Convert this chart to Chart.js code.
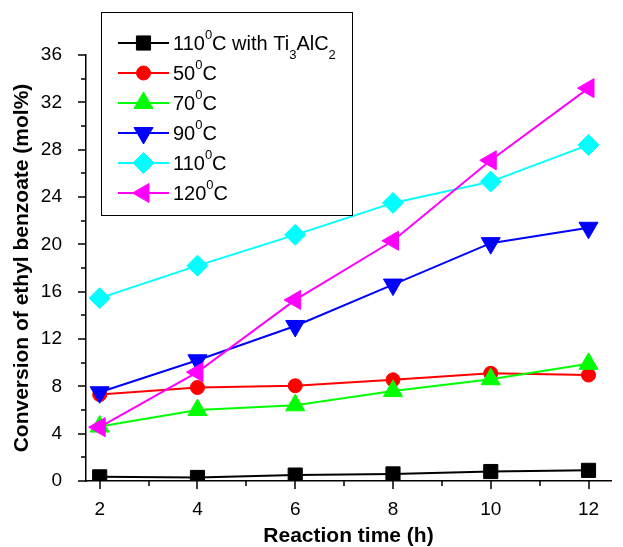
<!DOCTYPE html>
<html>
<head>
<meta charset="utf-8">
<script src="https://cdn.jsdelivr.net/npm/chart.js@4.4.1/dist/chart.umd.min.js"></script>
<style>
  html, body { margin: 0; padding: 0; background: #fff; }
</style>
</head>
<body>
<canvas id="chart" width="623" height="547"></canvas>
<script>
// reaction time (h)
var times = [2, 4, 6, 8, 10, 12];
var seriesLabels = ['110⁰C with Ti₃AlC₂', '50⁰C', '70⁰C', '90⁰C', '110⁰C', '120⁰C'];
// conversion (mol%)
var withTi = [0.35, 0.3, 0.5, 0.6, 0.8, 0.9];
var t50 = [7.3, 7.9, 8.05, 8.55, 9.1, 8.95];
var t70 = [4.6, 6.0, 6.4, 7.6, 8.6, 9.9];
var t90 = [7.5, 10.2, 13.1, 16.6, 20.1, 21.4];
var t110 = [15.45, 18.2, 20.8, 23.5, 25.3, 28.4];
var t120 = [4.55, 9.2, 15.3, 20.3, 27.1, 33.2];
var xTicks = [2, 4, 6, 8, 10, 12];
var xMinor = [3, 5, 7, 9, 11];
var yTicks = [0, 4, 8, 12, 16, 20, 24, 28, 32, 36];
var yMinor = [2, 6, 10, 14, 18, 22, 26, 30, 34];

var FONT = "'Liberation Sans', Arial, sans-serif";

function pts(vals) {
  return vals.map(function (v, i) { return { x: times[i], y: v }; });
}

function series(i, vals, color, style, radius, rot) {
  return {
    label: seriesLabels[i],
    data: pts(vals),
    borderColor: color,
    backgroundColor: color,
    borderWidth: 2,
    pointStyle: style,
    pointRadius: radius,
    pointRotation: rot || 0,
    pointBorderWidth: 1,
    pointBackgroundColor: color,
    pointBorderColor: color,
    order: 6 - i
  };
}

// split "110⁰C" into normal / superscript / subscript pieces
function pieces(s) {
  var sup = { '⁰': '0' }, sub = { '₃': '3', '₂': '2' };
  var out = [];
  for (var ch of s) {
    var k = sup[ch] ? 'sup' : (sub[ch] ? 'sub' : '');
    var c = sup[ch] || sub[ch] || ch;
    if (out.length && out[out.length - 1].k === k) out[out.length - 1].t += c;
    else out.push({ t: c, k: k });
  }
  return out;
}

var extras = {
  id: 'extras',
  afterDraw: function (chart) {
    var ctx = chart.ctx, xs = chart.scales.x, ys = chart.scales.y, a = chart.chartArea;
    ctx.save();
    // tick marks (major longer, minor shorter)
    ctx.strokeStyle = '#000';
    ctx.lineWidth = 1.5;
    ctx.beginPath();
    xTicks.forEach(function (v) { var p = Math.round(xs.getPixelForValue(v)); ctx.moveTo(p, a.bottom); ctx.lineTo(p, a.bottom + 8); });
    xMinor.forEach(function (v) { var p = Math.round(xs.getPixelForValue(v)); ctx.moveTo(p, a.bottom); ctx.lineTo(p, a.bottom + 5); });
    yTicks.forEach(function (v) { var p = Math.round(ys.getPixelForValue(v)); ctx.moveTo(a.left, p); ctx.lineTo(a.left - 8, p); });
    yMinor.forEach(function (v) { var p = Math.round(ys.getPixelForValue(v)); ctx.moveTo(a.left, p); ctx.lineTo(a.left - 5, p); });
    ctx.stroke();

    // legend box
    ctx.lineWidth = 1;
    ctx.strokeStyle = '#000';
    ctx.strokeRect(101.5, 12.5, 251, 203);
    chart.data.datasets.forEach(function (ds, i) {
      var cy = 43 + i * 30;
      ctx.strokeStyle = ds.borderColor;
      ctx.lineWidth = 2;
      ctx.beginPath();
      ctx.moveTo(118, cy);
      ctx.lineTo(169, cy);
      ctx.stroke();
      ctx.fillStyle = ds.pointBackgroundColor;
      ctx.strokeStyle = ds.pointBorderColor;
      ctx.lineWidth = 1;
      Chart.helpers.drawPoint(ctx, {
        pointStyle: ds.pointStyle, rotation: ds.pointRotation,
        radius: ds.pointRadius, borderWidth: 1
      }, 143.5, cy);
      // label text
      var x = 173, base = cy + 7;
      ctx.fillStyle = '#000';
      ctx.textBaseline = 'alphabetic';
      ctx.textAlign = 'left';
      pieces(ds.label).forEach(function (p) {
        var dy = 0;
        if (p.k === 'sup') { ctx.font = '13px ' + FONT; dy = -11; }
        else if (p.k === 'sub') { ctx.font = '13px ' + FONT; dy = 9; }
        else { ctx.font = '20px ' + FONT; }
        ctx.fillText(p.t, x, base + dy);
        x += ctx.measureText(p.t).width;
      });
    });
    ctx.restore();
  }
};

new Chart(document.getElementById('chart'), {
  type: 'line',
  data: {
    datasets: [
      series(0, withTi, '#000000', 'rect', 10),
      series(1, t50, '#ff0000', 'circle', 7),
      series(2, t70, '#00ff00', 'triangle', 11),
      series(3, t90, '#0000ff', 'triangle', 11, 180),
      series(4, t110, '#00ffff', 'rectRot', 10.5),
      series(5, t120, '#ff00ff', 'triangle', 11, 270)
    ]
  },
  options: {
    responsive: false,
    animation: false,
    layout: { padding: { left: 0, right: 1, top: 55, bottom: 0 } },
    plugins: { legend: { display: false }, tooltip: { enabled: false } },
    scales: {
      x: {
        type: 'linear',
        min: 1.72,
        max: 12.46,
        afterBuildTicks: function (s) { s.ticks = xTicks.map(function (v) { return { value: v }; }); },
        afterFit: function (s) { s.height = 66; },
        grid: { display: false },
        border: { display: true, color: '#000', width: 1.5 },
        ticks: { color: '#000', font: { family: FONT, size: 19 }, padding: 9, maxRotation: 0 },
        title: {
          display: true, text: 'Reaction time (h)', color: '#000',
          font: { family: FONT, size: 21, weight: 'bold', lineHeight: 1 },
          padding: { top: 0, bottom: 0 }
        }
      },
      y: {
        min: 0,
        max: 36,
        afterBuildTicks: function (s) { s.ticks = yTicks.map(function (v) { return { value: v }; }); },
        afterFit: function (s) { s.width = 86; },
        grid: { display: false },
        border: { display: true, color: '#000', width: 1.5 },
        ticks: { color: '#000', font: { family: FONT, size: 19 }, padding: 16 },
        title: {
          display: true, text: 'Conversion of ethyl benzoate (mol%)', color: '#000',
          font: { family: FONT, size: 21, weight: 'bold', lineHeight: 1 },
          padding: { top: 12, bottom: 0 }
        }
      }
    }
  },
  plugins: [extras]
});
</script>
</body>
</html>
